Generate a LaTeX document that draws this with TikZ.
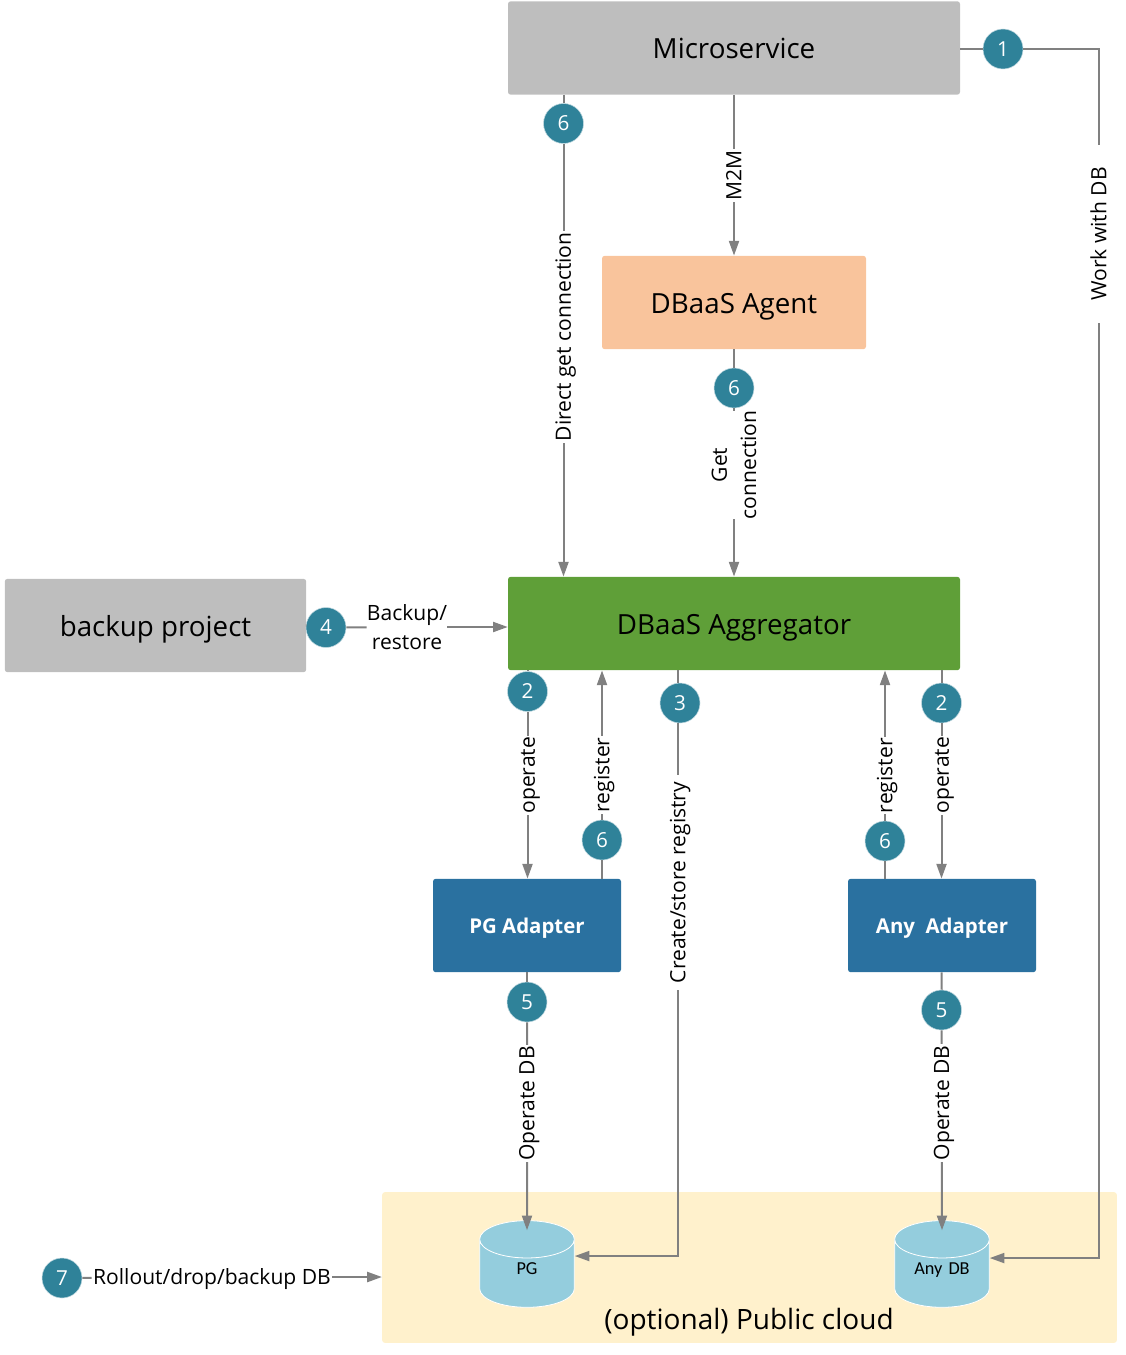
\documentclass[tikz,border=0pt]{standalone}
\usepackage{fontspec}
\setmainfont{Open Sans}
\newfontfamily\dbfont{Carlito}
\usetikzlibrary{arrows.meta}
\usetikzlibrary{shapes.geometric}
\definecolor{boxgray}{HTML}{BEBEBE}
\definecolor{agentorange}{HTML}{F9C49C}
\definecolor{aggrgreen}{HTML}{5F9F38}
\definecolor{adapterblue}{HTML}{2A71A0}
\definecolor{cloudyellow}{HTML}{FFF1CC}
\definecolor{dbblue}{HTML}{94CDDD}
\definecolor{badgeteal}{HTML}{2F8299}
\definecolor{linegray}{HTML}{808080}
\tikzset{
  >={Triangle[length=11pt,width=7.5pt]},
  box/.style={rounded corners=2pt,inner sep=0pt,minimum height=70pt,text height=16pt,text depth=0pt,font=\fontsize{20.8}{24}\selectfont},
  adapter/.style={box,fill=adapterblue,text=white,minimum width=141pt,text height=11.7pt,font=\fontsize{15.3}{18}\selectfont\bfseries},
  db/.style={cylinder,shape border rotate=90,aspect=0.56,draw=white,line width=0.6pt,cylinder uses custom fill,
    cylinder body fill=dbblue,cylinder end fill=dbblue,minimum width=71pt,minimum height=65pt,inner sep=0pt,
    text width=50pt,align=center,text height=6pt,text depth=5.2pt,font=\dbfont\fontsize{13.7}{16}\selectfont},
  badge/.style={circle,fill=badgeteal,draw=white!70!badgeteal,line width=0.4pt,text=white,minimum size=30pt,inner sep=0pt,font=\fontsize{15.5}{18}\selectfont},
  conn/.style={draw=linegray,line width=1.5pt},
  lbl/.style={fill=white,inner sep=1pt,text height=13.5pt,text depth=2.4pt,font=\fontsize{15.8}{19}\selectfont},
  vlbl/.style={lbl,rotate=90},
  twolines/.style={fill=white,align=center,inner sep=0pt,font=\fontsize{15.8}{22}\selectfont}
}
\begin{document}
\begin{tikzpicture}[x=0.75pt,y=-0.75pt]
      \useasboundingbox (0,0) rectangle (1125,1355);
      \node[box,fill=cloudyellow,minimum width=551pt,minimum height=113pt] at (749.5,1267.5) (cloud){};
      \node[inner sep=0pt,font=\fontsize{21}{24}\selectfont] at (749,1322) (cloudtxt){(optional) Public cloud};
      \node[box,fill=boxgray,minimum width=339pt] at (734,48) (micro){Microservice};
      \node[box,fill=agentorange,minimum width=198pt] at (734,302.5) (agent){DBaaS Agent};
      \node[box,fill=aggrgreen,minimum width=339pt] at (734,623.5) (aggr){DBaaS Aggregator};
      \node[box,fill=boxgray,minimum width=226pt] at (155.5,625.5) (backup){backup project};
      \node[adapter] at (527,925.5) (pgad){PG Adapter};
      \node[adapter] at (942,925.5) (anyad){Any~ Adapter};
      \node[db] at (527,1273.5) (pg){PG};
      \node[db] at (942,1273.5) (anydb){Any DB};
      % badges
      \node[badge] at (1003,49) (one){1};
      \node[badge] at (563.5,123.5) (sixa){6};
      \node[badge] at (734,388) (sixb){6};
      \node[badge] at (326,627.5) (four){4};
      \node[badge] at (527.5,691.5) (twoa){2};
      \node[badge] at (680,703) (three){3};
      \node[badge] at (941.5,703) (twob){2};
      \node[badge] at (602,840) (sixc){6};
      \node[badge] at (885,841) (sixd){6};
      \node[badge] at (527,1002) (fivea){5};
      \node[badge] at (941.5,1010) (fiveb){5};
      \node[badge] at (62,1278) (seven){7};
      % labels that break a line
      \node[vlbl,minimum width=133.5pt] at (1099,234) (work){Work with DB};
      \node[vlbl,minimum width=161.5pt] at (678,882.5) (create){Create/store registry};
      \node[twolines] at (407,627) (bkp){Backup/\\restore};
      \node[lbl] at (212,1277) (roll){Rollout/drop/backup DB};
      % connectors
      \draw[conn] (micro.east |- one) -- (one);
      \draw[conn] (one) -| (work);
      \draw[conn,->] (work) |- ([yshift=11.6pt]anydb.east);
      \draw[conn] (micro.south -| sixa) -- (sixa);
      \draw[conn,->] (sixa.south) -- node[vlbl,pos=0.446] {Direct get connection} (aggr.north -| sixa);
      \draw[conn,->] (micro) -- node[vlbl,pos=0.5] {M2M} (agent);
      \draw[conn] (agent) -- (sixb);
      \draw[conn,->] (sixb) -- node[twolines,rotate=90,pos=0.337] {Get\\connection} (aggr.north -| sixb);
      \draw[conn] (backup.east) -- (four);
      \draw[conn] (four) -- (bkp);
      \draw[conn,->] (bkp) -- (aggr.west |- bkp);
      \draw[conn] (aggr.south -| twoa) -- (twoa);
      \draw[conn,->] (twoa) -- node[vlbl,pos=0.38] {operate} (pgad.north -| twoa);
      \draw[conn] (pgad.north -| sixc) -- (sixc);
      \draw[conn,->] (sixc) -- node[vlbl,pos=0.3] {register} (aggr.south -| sixc);
      \draw[conn] (aggr.south -| create) -- (three.north -| create);
      \draw[conn] (three.south -| create) -- (create);
      \draw[conn,->] (create) |- ([yshift=13.1pt]pg.east);
      \draw[conn] (aggr.south -| twob) -- (twob);
      \draw[conn,->] (twob) -- node[vlbl,pos=0.335] {operate} (anyad.north -| twob);
      \draw[conn] (anyad.north -| sixd) -- (sixd);
      \draw[conn,->] (sixd) -- node[vlbl,pos=0.3] {register} (aggr.south -| sixd);
      \draw[conn] (pgad) -- (fivea);
      \draw[conn,->] (fivea) -- node[vlbl,pos=0.39] {Operate DB} ([yshift=-7.5pt]pg.north);
      \draw[conn] (anyad) -- (fiveb);
      \draw[conn,->] (fiveb) -- node[vlbl,pos=0.363] {Operate DB} ([yshift=-7.5pt]anydb.north);
      \draw[conn] (seven) -- (roll);
      \draw[conn,->] (roll) -- (cloud.west |- roll);
    \end{tikzpicture}
\end{document}
